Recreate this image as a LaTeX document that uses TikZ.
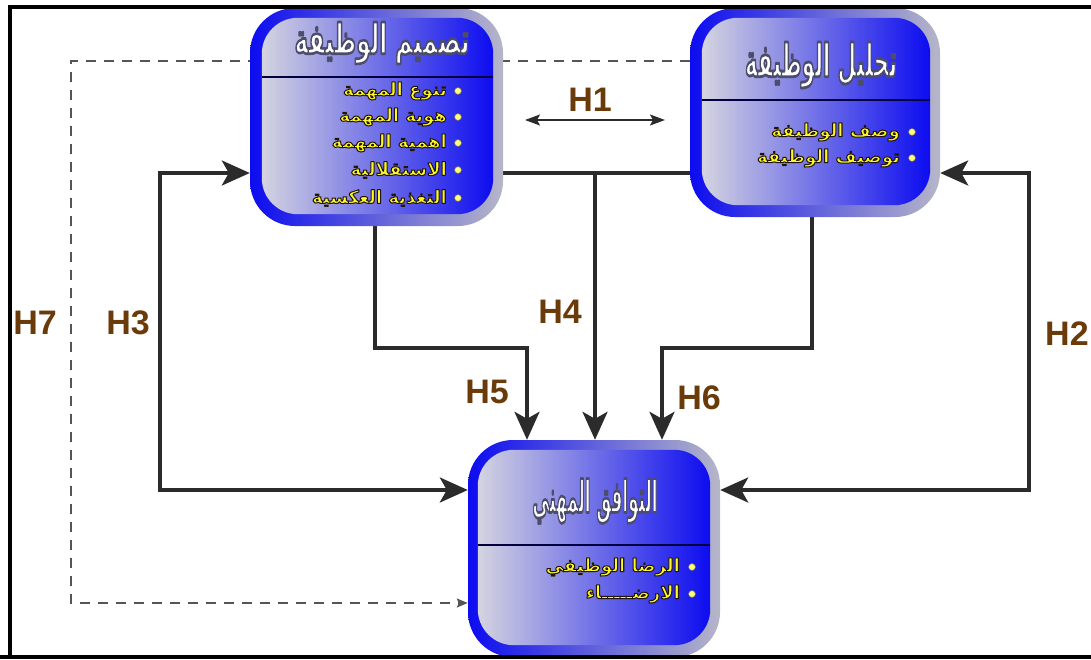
\documentclass[tikz,border=0pt]{standalone}
\usepackage{fontspec}
\usepackage{graphicx}
\setmainfont{Liberation Sans}
\newfontfamily\arabicfont[Script=Arabic]{DejaVu Sans}
\usetikzlibrary{arrows.meta,backgrounds}
\TeXXeTstate=1
\definecolor{boxblue}{RGB}{12,12,240}
\definecolor{boxgrey}{RGB}{182,182,200}
\definecolor{innergrey}{RGB}{212,212,224}
\definecolor{hbrown}{RGB}{106,58,8}
\definecolor{conncol}{RGB}{43,43,43}
\definecolor{dashcol}{RGB}{85,85,85}
\definecolor{itemyellow}{RGB}{255,248,40}
\newcommand\strokedtext[2]{\special{pdf:literal direct 2 Tr 1 j #1}#2\special{pdf:literal direct 0 Tr}}
\newcommand\itemtext[1]{\strokedtext{0.12 0.08 0.02 RG 1.0 w}{#1}}
\newcommand\titletext[3]{\resizebox*{#1}{#2}{\strokedtext{0.3 0.3 0.42 RG 1.6 w}{#3}}}
\begin{document}
\begin{tikzpicture}[x=1pt,y=-1pt,
  outerbox/.style={rectangle, rounded corners=45pt, left color=boxblue, right color=boxgrey, inner sep=0pt},
  innerpanel/.style={rounded corners=36pt, left color=innergrey, right color=boxblue},
  divider/.style={line width=2pt, draw=black!75!blue},
  conn/.style={line width=3.5pt, draw=conncol},
  bigtip/.style={arrows={-Stealth[length=28pt,width=25pt,inset=7pt]}},
  twotips/.style={arrows={Stealth[length=28pt,width=25pt,inset=7pt]-Stealth[length=28pt,width=25pt,inset=7pt]}},
  thinconn/.style={line width=1.6pt, draw=conncol, arrows={Stealth[length=15pt,width=11pt,inset=3pt]-Stealth[length=15pt,width=11pt,inset=3pt]}},
  dashconn/.style={line width=2pt, draw=dashcol, dash pattern=on 10pt off 8pt, arrows={-Stealth[length=11pt,width=9pt,inset=2pt]}},
  hlabel/.style={text=hbrown, font=\bfseries\fontsize{34}{34}\selectfont, inner sep=0pt},
  titlenode/.style={text=white, inner sep=0pt, font=\arabicfont\bfseries\fontsize{26}{30}\selectfont},
  itemnode/.style={text=itemyellow, anchor=east, inner sep=0pt, font=\arabicfont\bfseries\fontsize{18}{20}\selectfont},
  bulletdot/.style={circle, fill=itemyellow!60!white, draw=black!60, line width=0.6pt, minimum size=7pt, inner sep=0pt},
  frameline/.style={line width=4pt, draw=black}
]
\useasboundingbox (0,0) rectangle (1091,659);

% ---------- boxes ----------
\node[outerbox, minimum width=253pt, minimum height=218pt] (tasmim) at (376.5,117) {};
\path[innerpanel] ([shift={(12,10)}]tasmim.north west) rectangle ([shift={(-10,-12)}]tasmim.south east);
\node[outerbox, minimum width=250pt, minimum height=209pt] (tahlil) at (815,112.5) {};
\path[innerpanel] ([shift={(12,10)}]tahlil.north west) rectangle ([shift={(-10,-12)}]tahlil.south east);
\node[outerbox, minimum width=252pt, minimum height=217pt] (tawafuq) at (594,548.5) {};
\path[innerpanel] ([shift={(10,10)}]tawafuq.north west) rectangle ([shift={(-10,-12)}]tawafuq.south east);

% ---------- box contents: tasmim ----------
\node[titlenode] (tasmimT) at (382,43) {\titletext{175pt}{42pt}{\beginR تصميم الوظيفة\endR}};
\draw[divider] ([shift={(12,69)}]tasmim.north west) -- ([shift={(-10,69)}]tasmim.north east);
\node[bulletdot] (tb1) at (458,91) {};
\node[bulletdot] (tb2) at (458,117) {};
\node[bulletdot] (tb3) at (458,143) {};
\node[bulletdot] (tb4) at (458,170) {};
\node[bulletdot] (tb5) at (458,198) {};
\node[itemnode] (ti1) at (447,91) {\itemtext{\beginR تنوع المهمة\endR}};
\node[itemnode] (ti2) at (447,117) {\itemtext{\beginR هوية المهمة\endR}};
\node[itemnode] (ti3) at (447,143) {\itemtext{\beginR اهمية المهمة\endR}};
\node[itemnode] (ti4) at (447,170) {\itemtext{\beginR الاستقلالية\endR}};
\node[itemnode] (ti5) at (447,198) {\itemtext{\beginR التغذية العكسية\endR}};

% ---------- box contents: tahlil ----------
\node[titlenode] (tahlilT) at (821,65) {\titletext{152pt}{46pt}{\beginR تحليل الوظيفة\endR}};
\draw[divider] ([shift={(12,92)}]tahlil.north west) -- ([shift={(-10,92)}]tahlil.north east);
\node[bulletdot] (hb1) at (912,132) {};
\node[bulletdot] (hb2) at (912,158) {};
\node[itemnode] (hi1) at (900,132) {\itemtext{\beginR وصف الوظيفة\endR}};
\node[itemnode] (hi2) at (900,158) {\itemtext{\beginR توصيف الوظيفة\endR}};

% ---------- box contents: tawafuq ----------
\node[titlenode] (tawafuqT) at (595,501) {\titletext{125pt}{45pt}{\beginR التوافق المهني\endR}};
\draw[divider] ([shift={(10,105)}]tawafuq.north west) -- ([shift={(-10,105)}]tawafuq.north east);
\node[bulletdot] (wb1) at (692,567) {};
\node[bulletdot] (wb2) at (692,594) {};
\node[itemnode] (wi1) at (680,567) {\itemtext{\beginR الرضا الوظيفي\endR}};
\node[itemnode] (wi2) at (680,594) {\itemtext{\beginR الارضـــــاء\endR}};

% ---------- labels ----------
\node[hlabel] (lH1) at (590,100) {H1};
\node[hlabel, anchor=west] (lH2) at (1045,334) {H2};
\node[hlabel] (lH3) at (128,323) {H3};
\node[hlabel] (lH4) at (560,312) {H4};
\node[hlabel] (lH5) at (487,392) {H5};
\node[hlabel] (lH6) at (699,398) {H6};
\node[hlabel] (lH7) at (35,323) {H7};

% ---------- coordinates ----------
\coordinate (d1) at (71,61);
\coordinate (d2) at (71,603);
\coordinate (h1a) at (525,120);
\coordinate (h1b) at (665,120);
\coordinate (h3a) at (160,173);
\coordinate (h3b) at (160,490);
\coordinate (h2a) at (1029,173);
\coordinate (h2b) at (1029,490);
\coordinate (h4) at (595,173);
\coordinate (h5a) at (375,348);
\coordinate (h5b) at (527,348);
\coordinate (h6a) at (812,348);
\coordinate (h6b) at (662,348);

% ---------- connectors ----------
\begin{scope}[on background layer]
\draw[dashconn] (tahlil.west |- d1) -- (d1) -- (d2) -- (d2 -| tawafuq.west);
\draw[conn] (tasmim.east |- h4) -- (tahlil.west |- h4);
\draw[conn, bigtip] (h4) -- (h4 |- tawafuq.north);
\draw[conn, twotips] (tasmim.west |- h3a) -- (h3a) -- (h3b) -- (h3b -| tawafuq.west);
\draw[conn, twotips] (tahlil.east |- h2a) -- (h2a) -- (h2b) -- (h2b -| tawafuq.east);
\draw[conn, bigtip] (h5a |- tasmim.south) -- (h5a) -- (h5b) -- (h5b |- tawafuq.north);
\draw[conn, bigtip] (h6a |- tahlil.south) -- (h6a) -- (h6b) -- (h6b |- tawafuq.north);
\end{scope}
\draw[thinconn] (h1a) -- (h1b);

% ---------- frame ----------
\coordinate (ftl) at (5,7);
\coordinate (ftr) at (1091,7);
\coordinate (fbl) at (0,657);
\coordinate (fbr) at (1091,657);
\draw[frameline] (ftr) -- (ftl -| 10,0) -- (10,657);
\draw[frameline] (fbl) -- (fbr);
\end{tikzpicture}
\end{document}
